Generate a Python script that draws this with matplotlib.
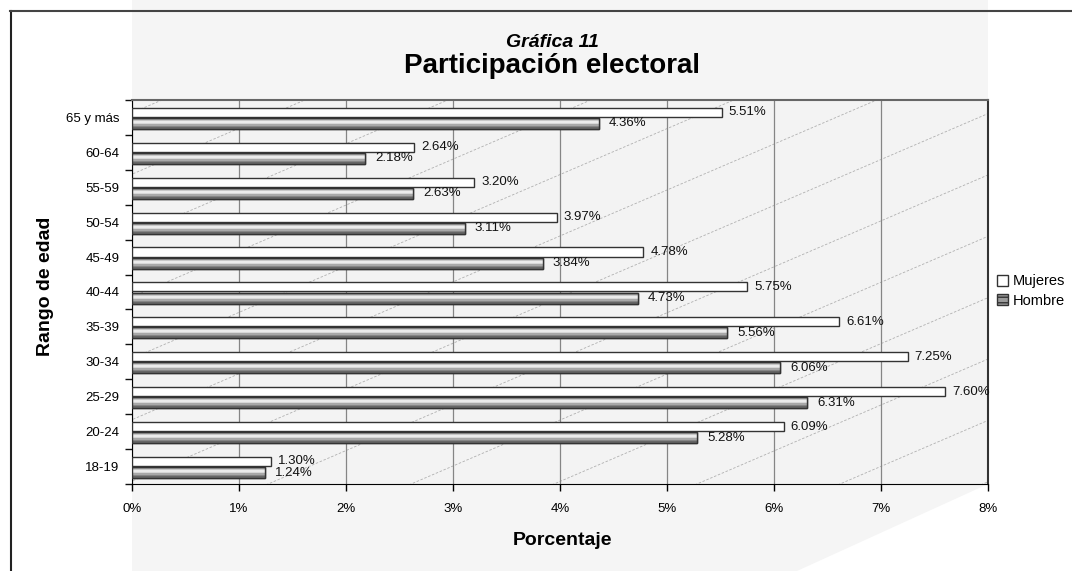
import matplotlib
matplotlib.use("Agg")
import matplotlib.pyplot as plt
import numpy as np
from matplotlib.patches import Polygon, Patch
from matplotlib.lines import Line2D

plt.rcParams['font.family'] = ['Liberation Sans', 'DejaVu Sans']

# datos
edades = ['18-19', '20-24', '25-29', '30-34', '35-39', '40-44',
          '45-49', '50-54', '55-59', '60-64', '65 y más']
mujeres = [1.30, 6.09, 7.60, 7.25, 6.61, 5.75, 4.78, 3.97, 3.20, 2.64, 5.51]
hombre = [1.24, 5.28, 6.31, 6.06, 5.56, 4.73, 3.84, 3.11, 2.63, 2.18, 4.36]
xticks_pct = [0, 1, 2, 3, 4, 5, 6, 7, 8]

W, H = 1072, 571


def fx(x):
    return x / W


def fy(y):
    return 1 - y / H


fig = plt.figure(figsize=(W / 100, H / 100), dpi=100)
fig.patch.set_facecolor('white')

# fondo gris (pared / piso 3D)
fondo = Polygon([(fx(132), fy(0)), (fx(988), fy(0)), (fx(988), fy(484)),
                 (fx(797), fy(571)), (fx(132), fy(571))],
                closed=True, transform=fig.transFigure,
                facecolor='#f5f5f5', edgecolor='none', zorder=0)
fig.add_artist(fondo)

# marco
fig.add_artist(Line2D([fx(10.5), fx(10.5)], [fy(11), fy(571)],
                      transform=fig.transFigure, color='#222222', lw=1.5))
fig.add_artist(Line2D([fx(10), fx(1072)], [fy(11), fy(11)],
                      transform=fig.transFigure, color='#444444', lw=1.5))

ax = fig.add_axes([fx(132), fy(484), (988 - 132) / W, 384 / H])
ax.set_facecolor('#f3f3f3')

y = np.arange(len(edades))

# lineas diagonales decorativas
xs = np.linspace(-0.2, 1.2, 2)
for k in range(-7, 7):
    x0 = 0.159 + 0.167 * k
    ax.plot(xs, 0.957 * (xs - x0), transform=ax.transAxes, color='#b0b0b0',
            lw=0.6, ls=(0, (3, 2)), zorder=0.5)

bm = ax.barh(y + 0.015, mujeres, height=0.26, align='edge',
             color='white', edgecolor='#333333', linewidth=1, zorder=3)
bh = ax.barh(y - 0.33, hombre, height=0.315, align='edge',
             color='#999999', edgecolor='#333333', linewidth=1, zorder=3)

# degradado de las barras de hombre
grad = np.array([[0.60], [0.78], [0.92], [0.84], [0.66], [0.52], [0.40]])
for b in bh:
    x0, y0, w, h = b.get_x(), b.get_y(), b.get_width(), b.get_height()
    ax.imshow(grad, extent=[x0, x0 + w, y0, y0 + h], aspect='auto',
              cmap='gray', vmin=0, vmax=1, interpolation='nearest', zorder=3.5)
    ax.add_patch(plt.Rectangle((x0, y0), w, h, fill=False,
                               edgecolor='#333333', lw=1, zorder=4))

for b, v in zip(bm, mujeres):
    ax.annotate(f'{v:.2f}%', xy=(v, b.get_y() + b.get_height() / 2),
                xytext=(7, 0), textcoords='offset pixels', va='center',
                ha='left', fontsize=9.5, color='#111111', zorder=5)
for b, v in zip(bh, hombre):
    ax.annotate(f'{v:.2f}%', xy=(v, b.get_y() + b.get_height() / 2),
                xytext=(10, 0), textcoords='offset pixels', va='center',
                ha='left', fontsize=9.5, color='#111111', zorder=5)

ax.set_xlim(0, 8)
ax.set_ylim(-0.5, len(edades) - 0.5)
ax.set_xticks(xticks_pct, [f'{t}%' for t in xticks_pct])
ax.set_yticks(y, edades)
ax.set_yticks(np.arange(-0.5, len(edades), 1), minor=True)
ax.tick_params(axis='y', which='major', length=0, pad=9, labelsize=9.5)
ax.tick_params(axis='y', which='minor', length=5, width=1, color='#111111')
ax.tick_params(axis='x', length=5, width=1, pad=9, labelsize=9.5)
ax.grid(axis='x', color='#858585', lw=0.9, zorder=1)
ax.set_axisbelow(True)

ax.spines['left'].set_color('black')
ax.spines['bottom'].set_color('black')
ax.spines['top'].set_color('#666666')
ax.spines['top'].set_linewidth(1.5)
ax.spines['right'].set_color('#333333')
ax.spines['right'].set_linewidth(1.5)

# titulos
fig.text(fx(552), fy(47), 'Gráfica 11', ha='center', va='baseline',
         fontsize=14, fontweight='bold', fontstyle='italic')
fig.text(fx(552), fy(73), 'Participación electoral', ha='center',
         va='baseline', fontsize=20, fontweight='bold')
fig.text(fx(562), fy(545), 'Porcentaje', ha='center', va='baseline',
         fontsize=14, fontweight='bold')
fig.text(fx(46), fy(286), 'Rango de edad', ha='center', va='center',
         rotation=90, fontsize=14, fontweight='bold')

# leyenda
handles = [Patch(facecolor='white', edgecolor='#333333', lw=1),
           Patch(facecolor='#9a9a9a', edgecolor='#333333', lw=1, hatch='---')]
fig.legend(handles, ['Mujeres', 'Hombre'], loc='center left',
           bbox_to_anchor=(fx(997), fy(291)), frameon=False, fontsize=10.5,
           handlelength=0.75, handleheight=0.75, handletextpad=0.3,
           labelspacing=0.35, borderpad=0, borderaxespad=0)

fig.savefig('out.png', dpi=100)
